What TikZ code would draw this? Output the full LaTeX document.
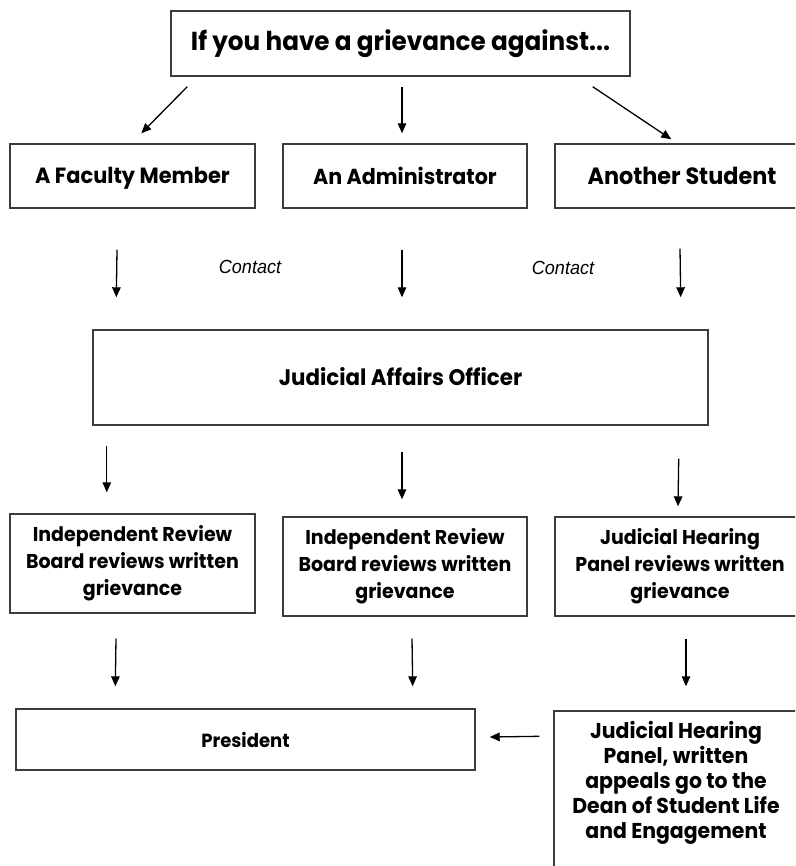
\documentclass[tikz,border=0pt]{standalone}
\usepackage{fontspec}
\setmainfont{Poppins}[FakeStretch=0.95]
\newfontfamily\contactfont{Liberation Sans}[FakeStretch=0.95]
\usetikzlibrary{arrows.meta}
\definecolor{boxline}{HTML}{3C3C3C}
\tikzset{
  box/.style={draw=boxline, line width=1.4pt, rectangle, inner sep=0pt, align=center,
    font=\bfseries\fontsize{22}{27}\selectfont, text=black},
  arr/.style={draw=black, line width=1.3pt, -{Triangle[length=10pt,width=8.5pt]}},
  lbl/.style={font=\contactfont\itshape\fontsize{19}{22}\selectfont, inner sep=0pt}
}
\begin{document}
\begin{tikzpicture}[x=1pt,y=-1pt]
\useasboundingbox (0,0) rectangle (795,866);
\fill[white] (0,0) rectangle (795,866);
\clip (0,0) rectangle (795,866);
% boxes
\node[box, minimum width=459pt, minimum height=65pt, font=\bfseries\fontsize{26}{30}\selectfont] (top) at (400.5,43.5) {\raisebox{4pt}{If you have a grievance against...}};
\node[box, minimum width=245pt, minimum height=64pt, text height=19.5pt, text depth=4pt] (fac) at (132.5,176) {A Faculty Member};
\node[box, minimum width=244pt, minimum height=64pt, font=\bfseries\fontsize{21.7}{27}\selectfont] (adm) at (405,176) {An Administrator};
\node[box, minimum width=254pt, minimum height=64pt, font=\bfseries\fontsize{23.5}{27}\selectfont] (stu) at (682,176) {Another Student};
\node[box, minimum width=615pt, minimum height=95pt, font=\bfseries\fontsize{22.5}{27}\selectfont] (jao) at (400.5,377.5) {\raisebox{2pt}{Judicial Affairs Officer}};
\node[box, minimum width=245pt, minimum height=99pt, font=\bfseries\fontsize{20}{27}\selectfont] (irb1) at (132.5,563.5) {Independent Review\\Board reviews written\\grievance};
\node[box, minimum width=244pt, minimum height=99pt, font=\bfseries\fontsize{20}{27}\selectfont] (irb2) at (405,566.5) {Independent Review\\Board reviews written\\grievance};
\node[box, minimum width=250pt, minimum height=99pt, font=\bfseries\fontsize{20}{27}\selectfont] (jhp) at (680,566.5) {Judicial Hearing\\Panel reviews written\\grievance};
\node[box, minimum width=459pt, minimum height=61pt, font=\bfseries\fontsize{19}{27}\selectfont] (pres) at (245.5,739.5) {President};
\node[box, minimum width=252pt, minimum height=170pt] (deanbox) at (680,796) {};
\node[font=\bfseries\fontsize{21.5}{25}\selectfont, align=center, inner sep=0pt] (dean) at (676,783) {Judicial Hearing\\Panel, written\\appeals go to the\\Dean of Student Life\\and Engagement};
% labels
\node[lbl] (c1) at (250,267) {Contact};
\node[lbl] (c2) at (563,268) {Contact};
% arrows row 1
\draw[arr] ([xshift=17pt,yshift=-10pt]top.south west) -- ([xshift=132pt,yshift=10pt]fac.north west);
\draw[arr] ([xshift=1.5pt,yshift=-10pt]top.south) -- ([xshift=-3pt,yshift=10pt]adm.north);
\draw[arr] ([xshift=-38pt,yshift=-10pt]top.south east) -- ([xshift=117pt,yshift=4pt]stu.north west);
% arrows row 2
\draw[arr] ([xshift=-15.5pt,yshift=-41pt]fac.south) -- ([xshift=24pt,yshift=32pt]jao.north west);
\draw[arr] ([xshift=-3pt,yshift=-41pt]adm.south) -- ([xshift=1.5pt,yshift=32pt]jao.north);
\draw[arr] ([xshift=-2pt,yshift=-40pt]stu.south) -- ([xshift=-28pt,yshift=32pt]jao.north east);
% arrows row 3
\draw[arr] ([xshift=14.5pt,yshift=-20pt]jao.south west) -- ([xshift=97.5pt,yshift=21pt]irb1.north west);
\draw[arr] ([xshift=1.5pt,yshift=-26pt]jao.south) -- ([xshift=-3pt,yshift=17pt]irb2.north);
\draw[arr] ([xshift=-30pt,yshift=-33pt]jao.south east) -- ([xshift=-2pt,yshift=10pt]jhp.north);
% arrows row 4
\draw[arr] ([xshift=-16.5pt,yshift=-25pt]irb1.south) -- ([xshift=100pt,yshift=22pt]pres.north west);
\draw[arr] ([xshift=7pt,yshift=-22pt]irb2.south) -- ([xshift=-63pt,yshift=22pt]pres.north east);
\draw[arr] ([xshift=6pt,yshift=-22pt]jhp.south) -- ([xshift=6pt,yshift=24pt]deanbox.north);
\draw[arr] ([xshift=-14pt,yshift=-26pt]deanbox.north west) -- ([xshift=14pt,yshift=2.5pt]pres.east);
\end{tikzpicture}
\end{document}
